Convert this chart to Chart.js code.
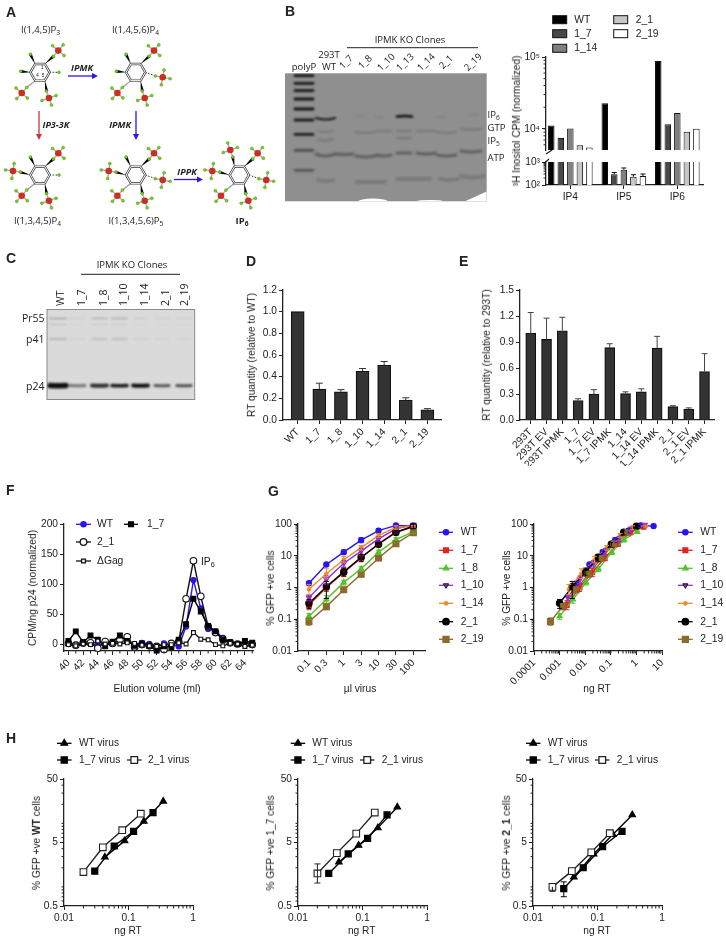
<!DOCTYPE html>
<html>
<head>
<meta charset="utf-8">
<title>IPMK KO clones figure</title>
<script src="https://cdn.jsdelivr.net/npm/chart.js@4"></script>
<style>
  html, body { margin: 0; background: #fff; }
  #page { position: relative; width: 726px; height: 939px; overflow: hidden; font-family: "Liberation Sans", sans-serif; font-size: 10.2px; color: #222; }
  #page canvas { position: absolute; }
  .txt { position: absolute; white-space: nowrap; line-height: 1; }
  .gel { font-family: "Open Sans", sans-serif; }
  sub { font-size: 70%; line-height: 0; vertical-align: -0.25em; }
</style>
</head>
<body>
<div id="page"><canvas id="art" width="726" height="939" style="left:0;top:0"></canvas></div>
<script>
// panel B: 3H inositol counts
const inositolGroups = ["IP4", "IP5", "IP6"];
const inositolClones = ["WT", "1_7", "1_14", "2_1", "2_19"];
const inositolFill = ["#000000", "#484848", "#7f7f7f", "#c6c6c6", "#ffffff"];
const inositolWT = [11100, 22800, 88000];
const inositol17 = [7450, 290, 11600];
const inositol114 = [10100, 465, 16600];
const inositol21 = [5900, 230, 9100];
const inositol219 = [5500, 245, 10000];
const inositolHi = [[null, null, null], [null, 350, null], [null, 550, null], [null, 280, null], [null, 300, null]];

// panel D
const rtClones = ["WT", "1_7", "1_8", "1_10", "1_14", "2_1", "2_19"];
const rtValues = [1.0, 0.285, 0.26, 0.45, 0.505, 0.185, 0.095];
const rtHi = [null, 0.34, 0.28, 0.475, 0.54, 0.205, 0.105];
const rtTicks = [0, 0.2, 0.4, 0.6, 0.8, 1.0, 1.2];

// panel E
const rescueLabels = ["293T", "293T EV", "293T IPMK", "1_7", "1_7 EV", "1_7 IPMK", "1_14", "1_14 EV", "1_14 IPMK", "2_1", "2_1 EV", "2_1 IPMK"];
const rescueValues = [1.0, 0.93, 1.03, 0.225, 0.30, 0.835, 0.305, 0.325, 0.83, 0.155, 0.125, 0.56];
const rescueHi = [1.24, 1.175, 1.185, 0.245, 0.35, 0.88, 0.325, 0.36, 0.965, 0.165, 0.14, 0.765];
const rescueTicks = [0, 0.3, 0.6, 0.9, 1.2, 1.5];

// panel F: elution profile
const elutionMl = [40, 41, 42, 43, 44, 45, 46, 47, 48, 49, 50, 51, 52, 53, 54, 55, 56, 57, 58, 59, 60, 61, 62, 63, 64, 65];
const elutionWT = [2, 0, 2, 1, -1, 2, 3, 5, 7, 0, 3, 1, -3, 2, 0, -3, 30, 107, 60, 26, 22, 11, 4, 1, 2, 1];
const elution17 = [6, 22, 4, 15, 8, -3, 5, 15, 6, -2, 2, -2, -10, -3, -4, 8, 34, 76, 55, 31, 22, 8, 4, 1, 6, 3];
const elution21 = [2, -1, 3, 3, -6, 5, 2, 8, 13, -4, 0, -2, -3, -8, 2, 5, 76, 139, 80, 30, 20, 9, 3, 1, 1, 0];
const elutionGag = [0, -2, 1, 0, 6, 1, 2, 1, 3, 2, -1, -2, -3, 0, 0, 3, 1, 20, 9, 8, 0, -2, 2, 1, -3, -1];
const elutionTicks = [0, 50, 100, 150, 200];

// panel G: infection curves
const gfpClones = ["WT", "1_7", "1_8", "1_10", "1_14", "2_1", "2_19"];
const gfpColors = ["#2a14ee", "#e0251f", "#55c12b", "#8f2bdf", "#ee8a26", "#000000", "#8b6a2c"];
const gfpStyles = ["circle", "rect", "triangle", "triangleDown", "star", "circle", "rect"];
const gfpSizes = [2.6, 3.4, 3, 3, 2.4, 3.2, 4.2];
const virusDoses = ["0.1", "0.3", "1", "3", "10", "30", "100"];
const gfpY = [
  [1.37, 5.3, 13, 31, 62, 90, 86],
  [0.28, 1.0, 3, 8.5, 24, 55, 82],
  [0.125, 0.42, 1.45, 3.9, 13, 32, 58],
  [0.48, 1.8, 5.8, 14, 34, 70, 95],
  [0.88, 2.7, 7.5, 18, 44, 78, 85],
  [0.32, 1.05, 3.1, 9, 23, 55, 85],
  [0.085, 0.25, 0.85, 2.6, 8.5, 24, 53]
];
const gfpLo = [
  [1.2, 4.6, 11, 26, 52, 78, 75],
  [0.2, 0.75, 2.2, 7, 20, 48, 75],
  [0.1, 0.32, 1.2, 3.2, 11, 27, 50],
  [0.38, 1.3, 4.4, 11, 28, 60, 85],
  [0.6, 1.9, 6, 15, 38, 68, 80],
  [0.22, 0.45, 2.3, 6.5, 19, 45, 70],
  [0.065, 0.2, 0.7, 2.2, 7, 20, 45]
];
const gfpHi = [
  [1.5, 6, 15, 37, 72, 98, 98],
  [0.38, 1.3, 4, 10, 28, 62, 90],
  [0.15, 0.55, 1.7, 4.5, 15, 37, 66],
  [0.58, 2.3, 7, 17, 40, 80, 100],
  [1.25, 3.9, 9.5, 21, 50, 88, 90],
  [0.42, 1.55, 4.1, 11, 27, 62, 100],
  [0.11, 0.3, 1, 3, 10, 28, 62]
];
const ngRT = [
  [0.0046, 0.0146, 0.048, 0.148, 0.49, 1.47, 4.7],
  [0.0019, 0.006, 0.019, 0.058, 0.19, 0.58, 1.9],
  [0.001, 0.0033, 0.0109, 0.033, 0.11, 0.33, 1.09],
  [0.0021, 0.0062, 0.021, 0.062, 0.21, 0.62, 2.1],
  [0.0023, 0.007, 0.023, 0.07, 0.23, 0.7, 2.3],
  [0.001, 0.0031, 0.0105, 0.032, 0.105, 0.32, 1.0],
  [0.00044, 0.0013, 0.0044, 0.013, 0.044, 0.13, 0.44]
];
const logPercent = [0.01, 0.1, 1, 10, 100];
const logDoseRT = [0.0001, 0.001, 0.01, 0.1, 1, 10];

// panel H: same viruses on WT, 1_7 and 2_1 cells
const ngWT = [0.043, 0.087, 0.173, 0.346];
const ng17 = [0.03, 0.06, 0.12, 0.24];
const ng21 = [0.02, 0.04, 0.08, 0.155];
const hWTcellsWT = [2.94, 5.3, 10.8, 22.3];
const hWTcells17 = [1.77, 4.4, 7.5, 14.8];
const hWTcells21 = [1.71, 4.2, 7.8, 14.2];
const h17cellsWT = [2.45, 4.5, 8.5, 18];
const h17cells17 = [1.63, 3.3, 5.8, 13.6];
const h17cells21 = [1.63, 3.4, 6.9, 14.8];
const h21cellsWT = [1.43, 3.3, 6.7, 13.6];
const h21cells17 = [0.94, 2.0, 4.3, 7.5];
const h21cells21 = [1.0, 1.77, 3.5, 7.0];

const INK = "#222222";
const PAD_L = 56, PAD_R = 14, PAD_T = 12, PAD_B = 46;
const page = document.getElementById("page");
const ctx = document.getElementById("art").getContext("2d");

Chart.defaults.font.family = '"Liberation Sans", sans-serif';
Chart.defaults.font.size = 10.2;
Chart.defaults.color = INK;
Chart.defaults.animation = false;
Chart.defaults.plugins.legend.display = false;
Chart.defaults.plugins.tooltip.enabled = false;

// error bars, read from hi/lo arrays on each dataset
Chart.register({
  id: "errorBars",
  afterDatasetsDraw(chart) {
    const c = chart.ctx, yScale = chart.scales.y;
    chart.data.datasets.forEach((ds, d) => {
      if (!ds.hi) return;
      const pts = chart.getDatasetMeta(d).data;
      c.save();
      c.strokeStyle = ds.errColor || ds.borderColor;
      c.lineWidth = 1;
      const cap = ds.cap || 3;
      pts.forEach((el, i) => {
        const vals = [ds.hi[i], ds.lo ? ds.lo[i] : null];
        vals.forEach(v => {
          if (v === null || v === undefined) return;
          const y = yScale.getPixelForValue(v);
          c.beginPath();
          c.moveTo(el.x, el.y);
          c.lineTo(el.x, y);
          c.moveTo(el.x - cap, y);
          c.lineTo(el.x + cap, y);
          c.stroke();
        });
      });
      c.restore();
    });
  }
});

// short minor ticks on the log axes
Chart.register({
  id: "minorTicks",
  afterDraw(chart, args, opts) {
    const c = chart.ctx, area = chart.chartArea;
    c.save();
    c.strokeStyle = INK;
    c.lineWidth = 1;
    c.beginPath();
    (opts.x || []).forEach(v => {
      const p = chart.scales.x.getPixelForValue(v);
      c.moveTo(p, area.bottom);
      c.lineTo(p, area.bottom + 2.5);
    });
    (opts.y || []).forEach(v => {
      const p = chart.scales.y.getPixelForValue(v);
      c.moveTo(area.left, p);
      c.lineTo(area.left - 2.5, p);
    });
    c.stroke();
    c.restore();
  }
});

function axis(type, min, max, values, labelFn, rotation) {
  return {
    type: type, min: min, max: max, offset: false,
    grid: { offset: false, drawOnChartArea: false, drawTicks: true, tickLength: 4, tickColor: INK, tickWidth: 1 },
    border: { display: true, color: INK, width: 1.3 },
    ticks: { autoSkip: false, padding: 2, color: INK, minRotation: rotation || 0, maxRotation: rotation || 0, includeBounds: false, callback: labelFn },
    afterBuildTicks: s => { s.ticks = values.map(v => ({ value: v })); }
  };
}

// each chart gets its own canvas, sized so the plot area lands on box (page pixels)
function plot(box, type, datasets, xAxis, yAxis, minor) {
  const cv = document.createElement("canvas");
  cv.width = Math.round(box.r - box.l) + PAD_L + PAD_R;
  cv.height = Math.round(box.b - box.t) + PAD_T + PAD_B;
  cv.style.left = Math.round(box.l - PAD_L) + "px";
  cv.style.top = Math.round(box.t - PAD_T) + "px";
  page.appendChild(cv);
  yAxis.afterFit = s => { s.width = PAD_L; };
  if (xAxis.display !== false) xAxis.afterFit = s => { s.height = PAD_B; };
  return new Chart(cv, {
    type: type,
    data: { datasets: datasets },
    options: {
      responsive: false,
      layout: { padding: { top: PAD_T, right: PAD_R, left: 0, bottom: xAxis.display === false ? PAD_B : 0 } },
      scales: { x: xAxis, y: yAxis },
      plugins: { minorTicks: minor || {} }
    }
  });
}

function pts(xs, ys) {
  return xs.map((x, i) => ({ x: x, y: ys[i] }));
}

function minorLog(fromExp, toExp, lo, hi) {
  const out = [];
  for (let e = fromExp; e <= toExp; e++) {
    for (let m = 2; m <= 9; m++) {
      const v = m * Math.pow(10, e);
      if (v > lo && v < hi) out.push(v);
    }
    const d = Math.pow(10, e);
    if (d > lo && d < hi) out.push(d);
  }
  return out;
}

// html labels: anchor 'c', 'l', 'r'; rot in degrees; rise = text reads upward from x,y
function label(x, y, html, o) {
  o = o || {};
  const d = document.createElement("div");
  d.className = "txt" + (o.gel ? " gel" : "");
  d.innerHTML = html;
  d.style.left = x + "px";
  d.style.top = y + "px";
  if (o.size) d.style.fontSize = o.size + "px";
  if (o.weight) d.style.fontWeight = o.weight;
  if (o.italic) d.style.fontStyle = "italic";
  if (o.rise) {
    d.style.transformOrigin = "0 50%";
    d.style.transform = "translateY(-50%) rotate(-90deg)";
  } else {
    const tx = o.anchor === "l" ? "0" : o.anchor === "r" ? "-100%" : "-50%";
    d.style.transform = "translate(" + tx + ",-50%)" + (o.rot ? " rotate(" + o.rot + "deg)" : "");
  }
  page.appendChild(d);
}

// legend swatch: a short line with the same marker the chart uses
function swatch(x1, x2, y, color, style, radius, fill) {
  ctx.save();
  ctx.strokeStyle = color;
  ctx.lineWidth = 1.3;
  ctx.beginPath();
  ctx.moveTo(x1, y);
  ctx.lineTo(x2, y);
  ctx.stroke();
  ctx.fillStyle = fill || color;
  Chart.helpers.drawPoint(ctx, { pointStyle: style, radius: radius, rotation: 0, borderWidth: 1.2 }, (x1 + x2) / 2, y);
  ctx.restore();
}

// ---------- panel letters ----------
[["A", 6, 12], ["B", 285, 11], ["C", 6, 258], ["D", 246, 261], ["E", 459, 261], ["F", 6, 490], ["G", 268, 491], ["H", 6, 738]].forEach(p => {
  label(p[1], p[2], p[0], { anchor: "l", size: 14, weight: "bold" });
});

// ---------- panel A: pathway schematic ----------
function molecule(cx, cy, phos) {
  const dirs = { tr: -60, r: 0, br: 60, bl: 120, l: 180, tl: 240 };
  const phosOff = { tr: [18.3, -21.7], r: [27, 5], br: [9, 25.7], bl: [-18.3, 20.7], l: [-27, -4], tl: [-9, -25] };
  const ohOff = { tl: [-9.7, -18], l: [-19.3, -1], r: [19, 0] };
  const vert = a => [cx + 9.6 * Math.cos(a * Math.PI / 180), cy + 9.6 * Math.sin(a * Math.PI / 180)];

  Object.keys(dirs).forEach(k => {
    const v = vert(dirs[k]);
    const isP = phos.indexOf(k) >= 0;
    const off = isP ? phosOff[k] : ohOff[k];
    const dx = off[0] / Math.hypot(off[0], off[1]), dy = off[1] / Math.hypot(off[0], off[1]);
    const end = isP ? [cx + off[0] - dx * 7, cy + off[1] - dy * 7] : [cx + off[0], cy + off[1]];
    // bond from ring
    if (k === "r") {
      ctx.strokeStyle = "#333"; ctx.lineWidth = 1; ctx.setLineDash([1.5, 1.5]);
      ctx.beginPath(); ctx.moveTo(v[0], v[1]); ctx.lineTo(end[0], end[1]); ctx.stroke();
      ctx.setLineDash([]);
    } else if (k === "bl") {
      ctx.strokeStyle = "#999"; ctx.lineWidth = 1.2;
      ctx.beginPath(); ctx.moveTo(v[0], v[1]); ctx.lineTo(end[0], end[1]); ctx.stroke();
    } else {
      ctx.fillStyle = "#000";
      ctx.beginPath();
      ctx.moveTo(v[0], v[1]);
      ctx.lineTo(end[0] - dy * 1.6, end[1] + dx * 1.6);
      ctx.lineTo(end[0] + dy * 1.6, end[1] - dx * 1.6);
      ctx.fill();
    }
    const green = (x, y) => {
      ctx.fillStyle = "#74d21e"; ctx.strokeStyle = "#3f8a10"; ctx.lineWidth = 0.4;
      ctx.beginPath(); ctx.arc(x, y, 1.5, 0, 7); ctx.fill(); ctx.stroke();
    };
    if (isP) {
      const px = cx + off[0], py = cy + off[1];
      const base = Math.atan2(-dy, -dx);
      [0, Math.PI / 2, Math.PI, -Math.PI / 2].forEach(t => {
        const gx = px + 7.5 * Math.cos(base + t), gy = py + 7.5 * Math.sin(base + t);
        ctx.strokeStyle = "#aaa"; ctx.lineWidth = 1.3;
        ctx.beginPath(); ctx.moveTo(px, py); ctx.lineTo(gx, gy); ctx.stroke();
        green(gx, gy);
      });
      ctx.fillStyle = "#c9301f";
      ctx.beginPath(); ctx.arc(px, py, 3.3, 0, 7); ctx.fill();
    } else {
      green(end[0], end[1]);
    }
  });
  // ring: dark tube with a white core
  ctx.beginPath();
  [0, 60, 120, 180, 240, 300].forEach((a, i) => {
    const v = vert(a);
    if (i) ctx.lineTo(v[0], v[1]); else ctx.moveTo(v[0], v[1]);
  });
  ctx.closePath();
  ctx.strokeStyle = "#444"; ctx.lineWidth = 2.4; ctx.stroke();
  ctx.strokeStyle = "#fff"; ctx.lineWidth = 1; ctx.stroke();
}

function arrow(x1, y1, x2, y2, color) {
  const a = Math.atan2(y2 - y1, x2 - x1);
  ctx.strokeStyle = color; ctx.fillStyle = color; ctx.lineWidth = 1.3;
  ctx.beginPath(); ctx.moveTo(x1, y1); ctx.lineTo(x2 - 4 * Math.cos(a), y2 - 4 * Math.sin(a)); ctx.stroke();
  ctx.beginPath();
  ctx.moveTo(x2, y2);
  ctx.lineTo(x2 - 6 * Math.cos(a) + 3 * Math.sin(a), y2 - 6 * Math.sin(a) - 3 * Math.cos(a));
  ctx.lineTo(x2 - 6 * Math.cos(a) - 3 * Math.sin(a), y2 - 6 * Math.sin(a) + 3 * Math.cos(a));
  ctx.closePath(); ctx.fill();
}

molecule(40, 72.3, ["tr", "bl", "br"]);
molecule(135.7, 72.3, ["tr", "r", "bl", "br"]);
molecule(40, 175, ["tr", "l", "bl", "br"]);
molecule(135.7, 175, ["tr", "r", "l", "bl", "br"]);
molecule(239.3, 175, ["tr", "r", "l", "bl", "br", "tl"]);
arrow(68, 76, 98, 76, "#2a14ee");
arrow(136, 111, 136, 140, "#2a14ee");
arrow(174, 179.5, 203, 179.5, "#2a14ee");
arrow(39, 111, 39, 140, "#c8333f");

const gelFont = { gel: true, size: 9.5 };
label(40.5, 29.5, "I(1,4,5)P<sub>3</sub>", gelFont);
label(135.5, 29.5, "I(1,4,5,6)P<sub>4</sub>", gelFont);
label(37.5, 221, "I(1,3,4,5)P<sub>4</sub>", gelFont);
label(136, 221, "I(1,3,4,5,6)P<sub>5</sub>", gelFont);
label(242, 221, "IP<sub>6</sub>", { gel: true, size: 9.5, weight: "bold" });
label(82, 67, "IPMK", { gel: true, size: 9, weight: "bold", italic: true });
label(42.5, 124, "IP3-3K", { gel: true, size: 9, weight: "bold", italic: true, anchor: "l" });
label(131, 124, "IPMK", { gel: true, size: 9, weight: "bold", italic: true, anchor: "r" });
label(187, 171, "IPPK", { gel: true, size: 9, weight: "bold", italic: true });
label(42.3, 68, "1", { size: 4.5 });
label(37.5, 76, "4", { size: 4.5 });
label(43, 76, "5", { size: 4.5 });

// ---------- gels (images in the source, painted here) ----------
function band(x1, x2, y, sag, th, alpha) {
  ctx.strokeStyle = "rgba(15,15,15," + alpha + ")";
  ctx.lineWidth = th;
  ctx.lineCap = "round";
  ctx.beginPath();
  ctx.moveTo(x1, y);
  ctx.quadraticCurveTo((x1 + x2) / 2, y + sag, x2, y);
  ctx.stroke();
}

// gel B
ctx.fillStyle = "#8f8f8f";
ctx.fillRect(285, 73.3, 201.7, 128);
ctx.save();
ctx.beginPath(); ctx.rect(285, 73.3, 201.7, 128); ctx.clip();
ctx.filter = "blur(1.2px)";
[[227, .95], [250, .95], [272, .95], [297, .95], [327, .95], [360, .9], [403, .9], [451, .5], [511, .45]].forEach(b => {
  band(295, 313, b[0] / 3, 0, 2.8, b[1]);
});
band(316, 335, 118, 3, 2.2, 0.9);
band(318, 333, 131, 2, 1.6, 0.2);
band(318, 333, 139, 3, 2, 0.18);
band(397, 412, 116.5, -1, 2.6, 1);
[[316, 335, 154, 4], [337, 353, 154, 1], [356, 375, 156, 2], [377, 391, 155, 2], [397, 411, 153, 0], [417, 435, 153, 2], [437, 456, 155, 2], [461, 481, 151, 2]].forEach(b => {
  band(b[0], b[1], b[2], b[3], 3, 0.36);
});
[[356, 375, 132, 2], [377, 391, 131, 0], [397, 411, 131, 0], [417, 435, 131, 0], [437, 456, 132, 2], [461, 481, 129, 1]].forEach(b => {
  band(b[0], b[1], b[2], b[3], 2.2, 0.18);
});
band(397, 411, 138, 0, 1.8, 0.2);
[[318, 333, 180, 2], [357, 385, 182, 0], [397, 430, 179, 0], [440, 458, 179, 2], [461, 484, 176, 3]].forEach(b => {
  band(b[0], b[1], b[2], b[3], 3.8, 0.16);
});
[[356, 116], [375, 117], [437, 117], [470, 115]].forEach(b => band(b[0], b[0] + 8, b[1], 0, 1.5, 0.1));
ctx.filter = "none";
ctx.fillStyle = "#fff";
ctx.beginPath(); ctx.ellipse(373, 201.5, 15, 3, 0, 0, 7); ctx.fill();
ctx.beginPath(); ctx.ellipse(430, 201.5, 13, 1.6, 0, 0, 7); ctx.fill();
ctx.beginPath(); ctx.moveTo(465, 201.3); ctx.lineTo(486.7, 191.5); ctx.lineTo(486.7, 201.3); ctx.closePath(); ctx.fill();
ctx.restore();

label(304, 67, "polyP", gelFont);
label(329, 55, "293T", gelFont);
label(329, 67, "WT", gelFont);
[["1_7", 346], ["1_8", 365], ["1_10", 386], ["1_13", 405], ["1_14", 426], ["2_1", 446], ["2_19", 473]].forEach(p => {
  label(p[1], 62, p[0], { gel: true, size: 9.5, rot: -45 });
});
label(410, 39.5, "IPMK KO Clones", gelFont);
[["IP<sub>6</sub>", 114.7], ["GTP", 128], ["IP<sub>5</sub>", 141], ["ATP", 157.7]].forEach(p => {
  label(487.5, p[1], p[0], { gel: true, size: 9.5, anchor: "l" });
});
ctx.strokeStyle = "#222"; ctx.lineWidth = 1;
ctx.beginPath(); ctx.moveTo(347, 47.7); ctx.lineTo(478, 47.7); ctx.stroke();

// gel C
ctx.fillStyle = "#dadada";
ctx.fillRect(47, 309.5, 147.7, 90);
ctx.strokeStyle = "#8a8a8a"; ctx.lineWidth = 1;
ctx.strokeRect(47, 309.5, 147.7, 90);
ctx.save();
ctx.beginPath(); ctx.rect(47, 309.5, 147.7, 90); ctx.clip();
ctx.filter = "blur(0.9px)";
const gelCLanes = [[50, 66, 1, 5.5, .4], [70, 85, .5, 3, .08], [92, 107, .85, 4, .28], [112, 127, .95, 3.6, .32], [133, 148, 1, 3.8, .1], [155, 169, .65, 3, .08], [177, 191, .7, 3, .08]];
gelCLanes.forEach(l => {
  band(l[0], l[1], 385.5, 0.5, l[3], l[2]);
  band(l[0], l[1], 318.5, 0, 1.2, l[4]);
  band(l[0], l[1], 324.5, 0, 1, l[4] * 0.4);
  band(l[0], l[1], 339, 0, 1.2, l[4] * 0.9);
});
ctx.filter = "none";
ctx.restore();
ctx.strokeStyle = "#222"; ctx.lineWidth = 1;
ctx.beginPath(); ctx.moveTo(81, 274.3); ctx.lineTo(180, 274.3); ctx.stroke();

label(132, 265, "IPMK KO Clones", gelFont);
[["Pr55", 317.7], ["p41", 339], ["p24", 385.7]].forEach(p => {
  label(44.5, p[1], p[0], { gel: true, size: 10.5, anchor: "r" });
});
[["WT", 60], ["1_7", 81], ["1_8", 102.7], ["1_10", 123.3], ["1_14", 144], ["2_1", 164.7], ["2_19", 184]].forEach(p => {
  label(p[1], 306, p[0], { gel: true, size: 10.5, rise: true });
});

// ---------- panel B chart: broken log axis, two plots stacked ----------
const inositolSeries = [inositolWT, inositol17, inositol114, inositol21, inositol219];
function inositolSets() {
  return inositolSeries.map((vals, i) => ({
    label: inositolClones[i],
    data: pts([0, 1, 2], vals),
    backgroundColor: inositolFill[i],
    borderColor: "#111",
    borderWidth: 1,
    categoryPercentage: 0.891,
    barPercentage: 0.68,
    hi: inositolHi[i],
    errColor: "#111",
    cap: 2.5
  }));
}
const groupX = { min: -0.455, max: 2.48 };
const topX = axis("linear", groupX.min, groupX.max, [], () => "");
topX.display = false;
plot({ l: 545.7, t: 56.7, r: 702.3, b: 150 }, "bar", inositolSets().map(d => { d.hi = null; return d; }), topX,
  axis("logarithmic", 5080, 100000, [10000, 100000], v => (v === 100000 ? "10\u2075" : "10\u2074")),
  { y: minorLog(3, 4, 5080, 100000) });
plot({ l: 545.7, t: 162.3, r: 702.3, b: 185.3 }, "bar", inositolSets(),
  axis("linear", groupX.min, groupX.max, [0, 1, 2], v => inositolGroups[v]),
  axis("logarithmic", 100, 1000, [100, 1000], v => (v === 1000 ? "10\u00b3" : "10\u00b2")),
  { y: minorLog(2, 2, 100, 1000) });

// axis break marks
ctx.strokeStyle = "#222"; ctx.lineWidth = 1.3;
ctx.beginPath();
ctx.moveTo(546, 154); ctx.lineTo(552, 150);
ctx.moveTo(544, 163.5); ctx.lineTo(549, 159);
ctx.stroke();

label(516.5, 120.5, "\u00b3H Inositol CPM (normalized)", { rot: -90 });
inositolClones.forEach((c, i) => {
  const col = i < 3 ? 0 : 1;
  const row = i < 3 ? i : i - 3;
  const x = col ? 613.7 : 552.7;
  const y = [19.7, 33.7, 48.3][row];
  ctx.fillStyle = inositolFill[i];
  ctx.fillRect(x, y - 4, 14, 8);
  ctx.strokeStyle = "#111"; ctx.lineWidth = 1;
  ctx.strokeRect(x, y - 4, 14, 8);
  label(col ? 635.7 : 574.3, y, c, { anchor: "l", size: 10.3 });
});

// ---------- panels D and E ----------
plot({ l: 283, t: 290, r: 441, b: 419.7 }, "bar", [{
    data: pts(rtClones.map((c, i) => i), rtValues),
    backgroundColor: "#333333", borderColor: "#111", borderWidth: 1.2,
    barThickness: 13, hi: rtHi, errColor: "#333", cap: 3.5
  }],
  axis("linear", -0.68, 6.63, rtClones.map((c, i) => i), v => rtClones[v], 45),
  axis("linear", 0, 1.2, rtTicks, v => v.toFixed(1)));
label(251.7, 355, "RT quantity (relative to WT)", { rot: -90 });

plot({ l: 520, t: 290, r: 714, b: 419.7 }, "bar", [{
    data: pts(rescueLabels.map((c, i) => i), rescueValues),
    backgroundColor: "#333333", borderColor: "#111", borderWidth: 1.2,
    barThickness: 10, hi: rescueHi, errColor: "#444", cap: 3
  }],
  axis("linear", -0.68, 11.6, rescueLabels.map((c, i) => i), v => rescueLabels[v], 45),
  axis("linear", 0, 1.5, rescueTicks, v => v.toFixed(1)));
label(486.7, 355, "RT quantity (relative to 293T)", { rot: -90 });

// ---------- panel F ----------
function lineSet(name, xs, ys, color, style, radius, fill, order, hi, lo) {
  return {
    label: name, data: pts(xs, ys), order: order, clip: false,
    borderColor: color, borderWidth: 1.4, tension: 0,
    pointStyle: style, pointRadius: radius, pointBackgroundColor: fill || color,
    pointBorderColor: color, pointBorderWidth: 1.1,
    hi: hi, lo: lo, errColor: color, cap: 3
  };
}
const elutionLabelled = elutionMl.filter(v => v % 2 === 0 && v <= 64);
plot({ l: 64, t: 524.3, r: 253, b: 651.7 }, "line", [
    lineSet("WT", elutionMl, elutionWT, "#2a14ee", "circle", 2.6, null, 4),
    lineSet("2_1", elutionMl, elution21, "#111", "circle", 3.3, "#fff", 3),
    lineSet("1_7", elutionMl, elution17, "#000", "rect", 3.4, null, 2),
    lineSet("\u0394Gag", elutionMl, elutionGag, "#111", "rect", 2.7, "#fff", 1)
  ],
  axis("linear", 39.4, 65.1, elutionLabelled, v => String(v), 45),
  axis("linear", -10.6, 200, elutionTicks, v => String(v)),
  { x: elutionMl.filter(v => v % 2 === 1) });
label(32.7, 587.7, "CPM/ng p24 (normalized)", { rot: -90 });
label(157, 689, "Elution volume (ml)");
label(201, 562, "IP<sub>6</sub>", { anchor: "l", size: 10.3 });
swatch(76, 91, 524.3, "#2a14ee", "circle", 2.6);
label(97, 524.3, "WT", { anchor: "l", size: 10.3 });
swatch(124, 138, 524.3, "#000", "rect", 3.4);
label(147, 524.3, "1_7", { anchor: "l", size: 10.3 });
swatch(76, 91, 542, "#111", "circle", 3.3, "#fff");
label(97, 542, "2_1", { anchor: "l", size: 10.3 });
swatch(76, 91, 561, "#111", "rect", 2.7, "#fff");
label(97, 561, "\u0394Gag", { anchor: "l", size: 10.3 });

// ---------- panel G ----------
function gfpSets(xFor) {
  return gfpClones.map((name, i) => lineSet(name, xFor(i), gfpY[i], gfpColors[i], gfpStyles[i] === "triangleDown" ? "triangle" : gfpStyles[i], gfpSizes[i], null, 10 - i, gfpHi[i], gfpLo[i]))
    .map((d, i) => { if (gfpStyles[i] === "triangleDown") d.pointRotation = 180; d.cap = 2.5; return d; });
}
const percentMinor = minorLog(-2, 1, 0.01, 100);
plot({ l: 298.3, t: 524, r: 425.7, b: 651.3 }, "line", gfpSets(() => virusDoses.map((d, i) => i)),
  axis("linear", -0.63, 6.67, virusDoses.map((d, i) => i), v => virusDoses[v], 45),
  axis("logarithmic", 0.01, 100, logPercent, v => String(v)),
  { y: percentMinor });
label(271.3, 587.5, "% GFP +ve cells", { rot: -90 });
label(360, 689, "\u00b5l virus");

plot({ l: 533.5, t: 524, r: 661, b: 651.3 }, "line", gfpSets(i => ngRT[i]),
  axis("logarithmic", 0.0001, 10, logDoseRT, v => String(v), 45),
  axis("logarithmic", 0.01, 100, logPercent, v => String(v)),
  { y: percentMinor, x: minorLog(-4, 0, 0.0001, 10) });
label(506.7, 587.5, "% GFP +ve cells", { rot: -90 });
label(597, 689, "ng RT");

const legendRows = [532.3, 550.3, 568.3, 585.3, 603.3, 621.7, 639.3];
gfpClones.forEach((c, i) => {
  [[439, 453, 460.7], [678, 692.7, 700.3]].forEach(col => {
    const style = gfpStyles[i];
    if (style === "triangleDown") {
      ctx.save();
      swatch(col[0], col[1], legendRows[i], gfpColors[i], "line", 0.01);
      ctx.fillStyle = gfpColors[i];
      Chart.helpers.drawPoint(ctx, { pointStyle: "triangle", radius: 3, rotation: 180, borderWidth: 1 }, (col[0] + col[1]) / 2, legendRows[i]);
      ctx.restore();
    } else {
      swatch(col[0], col[1], legendRows[i], gfpColors[i], style, gfpSizes[i]);
    }
    label(col[2], legendRows[i], c, { anchor: "l", size: 10.3 });
  });
});

// ---------- panel H ----------
const hPercent = [0.5, 5, 50];
const hDose = [0.01, 0.1, 1];
function hPanel(left, valsWT, vals17, vals21, hi21, lo21, hi17, lo17) {
  const right = left + 128.6;
  plot({ l: left, t: 779, r: right, b: 906.3 }, "line", [
      lineSet("WT virus", ngWT, valsWT, "#000", "triangle", 3.8, null, 3),
      lineSet("1_7 virus", ng17, vals17, "#000", "rect", 4.3, null, 1, hi17, lo17),
      lineSet("2_1 virus", ng21, vals21, "#222", "rect", 4.7, "#fff", 2, hi21, lo21)
    ],
    axis("logarithmic", 0.01, 1, hDose, v => String(v)),
    axis("logarithmic", 0.5, 50, hPercent, v => String(v)),
    { x: minorLog(-2, -1, 0.01, 1), y: minorLog(-1, 1, 0.5, 50) });
}
hPanel(63.7, hWTcellsWT, hWTcells17, hWTcells21);
hPanel(297.7, h17cellsWT, h17cells17, h17cells21, [2.3, null, null, null], [1.15, null, null, null]);
hPanel(533.3, h21cellsWT, h21cells17, h21cells21, [null, null, null, null], [0.85, null, null, null], [1.2, null, null, null], [0.7, null, null, null]);

label(37.3, 842.5, "% GFP +ve <b>WT</b> cells", { rot: -90 });
label(271, 842.5, "% GFP +ve 1_7 cells", { rot: -90 });
label(506.7, 842.5, "% GFP +ve <b>2_1</b> cells", { rot: -90 });
[128, 361.7, 597].forEach(x => label(x, 931, "ng RT"));

[[57, 79, 127, 148], [290.7, 312.3, 360, 381.7], [526, 547.7, 595, 616.7]].forEach(l => {
  swatch(l[0], l[0] + 14.5, 743.3, "#000", "triangle", 3.8);
  label(l[1], 743.3, "WT virus", { anchor: "l" });
  swatch(l[0], l[0] + 14.5, 760, "#000", "rect", 4.3);
  label(l[1], 760, "1_7 virus", { anchor: "l" });
  swatch(l[2], l[2] + 14.5, 760, "#222", "rect", 4.7, "#fff");
  label(l[3], 760, "2_1 virus", { anchor: "l" });
});
</script>
</body>
</html>
